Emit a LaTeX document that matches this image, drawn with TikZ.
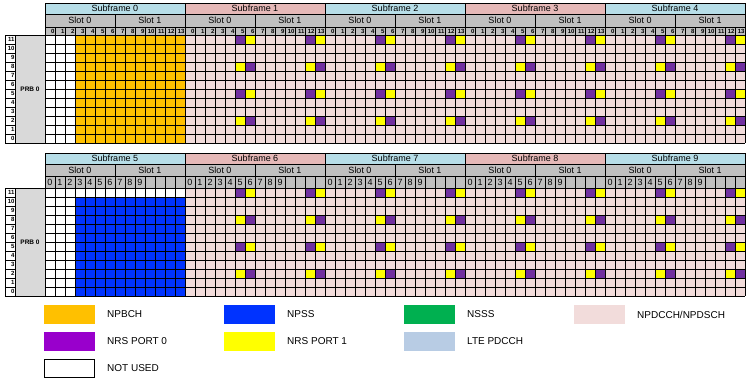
\documentclass[tikz,border=0pt]{standalone}
\usepackage{fontspec}
\setmainfont{Liberation Sans}
\definecolor{hdrblue}{HTML}{B7DEE8}
\definecolor{hdrpink}{HTML}{E6B9B8}
\definecolor{slotgray}{HTML}{C0C0C0}
\definecolor{prbgray}{HTML}{D9D9D9}
\definecolor{gridpink}{HTML}{F2DCDB}
\definecolor{npbch}{HTML}{FFC000}
\definecolor{npss}{HTML}{0033FF}
\definecolor{nsss}{HTML}{00B050}
\definecolor{nrsp}{HTML}{7030A0}
\definecolor{nrspleg}{HTML}{9900CC}
\definecolor{nrsy}{HTML}{FFFF00}
\definecolor{ltepdcch}{HTML}{B8CCE4}

% #1 first subframe, #2 yH, #3 hH, #4 hS, #5 hN, #6 mode (0 top, 1 bottom)
\newcommand\FrameRow[6]{%
  \pgfmathsetmacro\yS{#2+#3}%
  \pgfmathsetmacro\yN{#2+#3+#4}%
  \pgfmathsetmacro\yG{#2+#3+#4+#5}%
  \foreach \k in {0,...,4}{%
    \pgfmathtruncatemacro\s{#1+\k}%
    \pgfmathsetmacro\xo{45+140*\k}%
    \pgfmathsetmacro\xm{\xo+70}%
    \pgfmathtruncatemacro\odd{mod(\k,2)}%
    \ifnum\odd=1 \def\hc{hdrpink}\else\def\hc{hdrblue}\fi
    \fill[gridpink] (\xo,\yG) rectangle ++(140,108);
    \ifnum\k=0
      \ifnum#6=0
        \fill[white] (\xo,\yG) rectangle ++(30,108);
        \fill[npbch] (\xo+30,\yG) rectangle ++(110,108);
      \else
        \fill[white] (\xo,\yG) rectangle ++(140,108);
        \fill[npss] (\xo+30,\yG+9) rectangle ++(110,99);
      \fi
    \else
      \foreach \r/\a/\b in {0/nrsp/nrsy,3/nrsy/nrsp,6/nrsp/nrsy,9/nrsy/nrsp}{%
        \foreach \c/\cc in {5/\a,6/\b,12/\a,13/\b}{%
          \fill[fill=\cc] (\xo+10*\c,\yG+9*\r) rectangle ++(10,9);
        }%
      }%
    \fi
    \node[hdrcell, fill=\hc, minimum width=140pt, minimum height=#3pt] (sf\s) at (\xo,#2) {Subframe \s};
    \node[hdrcell, fill=slotgray, minimum width=70pt, minimum height=#4pt] (sl\s-0) at (\xo,\yS) {Slot 0};
    \node[hdrcell, fill=slotgray, minimum width=70pt, minimum height=#4pt] (sl\s-1) at (\xm,\yS) {Slot 1};
    \foreach \c in {0,...,13}{%
      \pgfmathsetmacro\xc{\xo+10*\c}%
      \ifnum#6=0
        \node[numcell, minimum height=#5pt, text width=9pt, align=right, font=\fontsize{6}{6}\selectfont\bfseries] (n\s-\c) at (\xc,\yN) {\c};
      \else
        \ifnum\c<10 \def\lab{\c}\else\def\lab{}\fi
        \node[numcell, minimum height=#5pt, font=\fontsize{9}{9}\selectfont] (n\s-\c) at (\xc,\yN) {\lab};
      \fi
    }%
  }%
  \foreach \i in {0,...,70}{\draw[gridline] (45+10*\i,\yG) -- ++(0,108);}
  \foreach \j in {0,...,12}{\draw[gridline] (45,\yG+9*\j) -- (745,\yG+9*\j);}
  \foreach \j in {0,...,11}{%
    \pgfmathtruncatemacro\rn{11-\j}%
    \node[rowlab] (rl#1-\rn) at (5,\yG+9*\j) {\rn};
  }%
  \node[prbbox] (prb#1) at (15,\yG) {PRB 0};
}

\begin{document}
\begin{tikzpicture}[x=1pt,y=-1pt,
  gridline/.style={line width=0.9pt, black},
  hdrcell/.style={draw=black, line width=0.8pt, anchor=north west, inner sep=0pt, outer sep=0pt, font=\fontsize{9}{9}\selectfont},
  numcell/.style={draw=black, line width=0.8pt, fill=slotgray, anchor=north west, inner sep=0pt, outer sep=0pt, minimum width=10pt},
  rowlab/.style={draw=black, line width=0.8pt, fill=white, anchor=north west, inner sep=0pt, outer sep=0pt, minimum width=10pt, minimum height=9pt, text width=9pt, align=right, font=\fontsize{6}{6}\selectfont\bfseries},
  prbbox/.style={draw=black, line width=0.8pt, fill=prbgray, anchor=north west, inner sep=0pt, outer sep=0pt, minimum width=30pt, minimum height=108pt, font=\fontsize{6.5}{6.5}\selectfont\bfseries},
  legbox/.style={anchor=north west, inner sep=0pt, outer sep=0pt, minimum width=51pt, minimum height=19pt},
  legtext/.style={anchor=west, inner sep=0pt, font=\fontsize{10}{10}\selectfont}]
\useasboundingbox (0,0) rectangle (752,382);
\fill[white] (0,0) rectangle (752,382);

\FrameRow{0}{3}{11}{13}{8}{0}
\FrameRow{5}{153}{11}{12}{12}{1}

% legend
\node[legbox, fill=npbch] (lgA) at (44,305) {};
\node[legtext] (ltA) at (107,314.5) {NPBCH};
\node[legbox, fill=npss] (lgB) at (224,305) {};
\node[legtext] (ltB) at (287,314.5) {NPSS};
\node[legbox, fill=nsss] (lgC) at (404,305) {};
\node[legtext] (ltC) at (467,314.5) {NSSS};
\node[legbox, fill=gridpink] (lgD) at (574,305) {};
\node[legtext] (ltD) at (637,314.5) {NPDCCH/NPDSCH};
\node[legbox, fill=nrspleg] (lgE) at (44,332) {};
\node[legtext] (ltE) at (107,341.5) {NRS PORT 0};
\node[legbox, fill=nrsy] (lgF) at (224,332) {};
\node[legtext] (ltF) at (287,341.5) {NRS PORT 1};
\node[legbox, fill=ltepdcch] (lgG) at (404,332) {};
\node[legtext] (ltG) at (467,341.5) {LTE PDCCH};
\node[legbox, draw=black, line width=0.8pt, fill=white, minimum width=50pt, minimum height=18pt] (lgH) at (44.5,359.5) {};
\node[legtext] (ltH) at (107,368) {NOT USED};
\end{tikzpicture}
\end{document}
